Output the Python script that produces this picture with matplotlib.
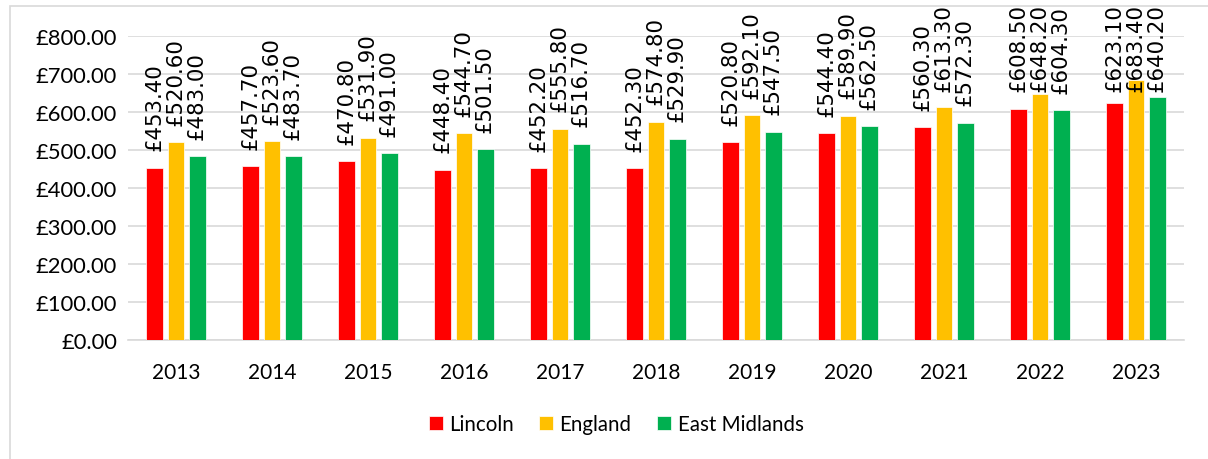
import matplotlib
matplotlib.use("Agg")
import matplotlib.pyplot as plt
import numpy as np
from matplotlib.patches import Rectangle

years = ["2013", "2014", "2015", "2016", "2017", "2018", "2019", "2020", "2021", "2022", "2023"]
lincoln = [453.40, 457.70, 470.80, 448.40, 452.20, 452.30, 520.80, 544.40, 560.30, 608.50, 623.10]
england = [520.60, 523.60, 531.90, 544.70, 555.80, 574.80, 592.10, 589.90, 613.30, 648.20, 683.40]
east_midlands = [483.00, 483.70, 491.00, 501.50, 516.70, 529.90, 547.50, 562.50, 572.30, 604.30, 640.20]

series = [("Lincoln", lincoln, "#FF0000"),
          ("England", england, "#FFC000"),
          ("East Midlands", east_midlands, "#00B050")]

plt.rcParams['font.family'] = ['Lato', 'DejaVu Sans']

W, H = 1208, 460
fig = plt.figure(figsize=(W/100, H/100), dpi=100)
ax = fig.add_axes([128/W, 1-341/H, (1184-128)/W, (341-37)/H])

# outer border
fig.patches.append(Rectangle((10/W, -0.01), 1.02, 1-7/H+0.01, transform=fig.transFigure,
                             fill=False, edgecolor="#D9D9D9", linewidth=1.2))

x = np.arange(len(years))
width = 0.175
step = 0.22
for i, (name, vals, col) in enumerate(series):
    pos = x + (i-1)*step
    ax.bar(pos, vals, width, color=col, label=name, edgecolor="white", linewidth=0.5, zorder=3)
    for px, v in zip(pos, vals):
        ly = min(v + 46, 655)
        ax.text(px, ly, f"£{v:.2f}", rotation=90, ha="center", va="bottom",
                fontsize=15.3, color="black", clip_on=False, zorder=4,
                family="DejaVu Sans")

ax.set_ylim(0, 800)
ax.set_xlim(-0.5, len(years)-0.5)
ax.set_yticks(np.arange(0, 801, 100))
ax.set_yticklabels([f"£{t:.2f}" for t in np.arange(0, 801, 100)], fontsize=15.8)
ax.set_xticks(x)
ax.set_xticklabels(years, fontsize=15)
ax.tick_params(axis="both", length=0)
ax.tick_params(axis="x", pad=16)
ax.tick_params(axis="y", pad=8)
ax.grid(axis="y", color="#D9D9D9", linewidth=1.2, zorder=0)
for s in ["top", "right", "left"]:
    ax.spines[s].set_visible(False)
ax.spines["bottom"].set_color("#D9D9D9")
ax.spines["bottom"].set_linewidth(1.2)

leg = fig.legend(loc="center", bbox_to_anchor=(616/W, 1-425/H), ncol=3, frameon=False,
                 fontsize=14.8, handlelength=0.68, handleheight=0.68, handletextpad=0.3,
                 columnspacing=1.26)

fig.savefig("out.png", dpi=100)
